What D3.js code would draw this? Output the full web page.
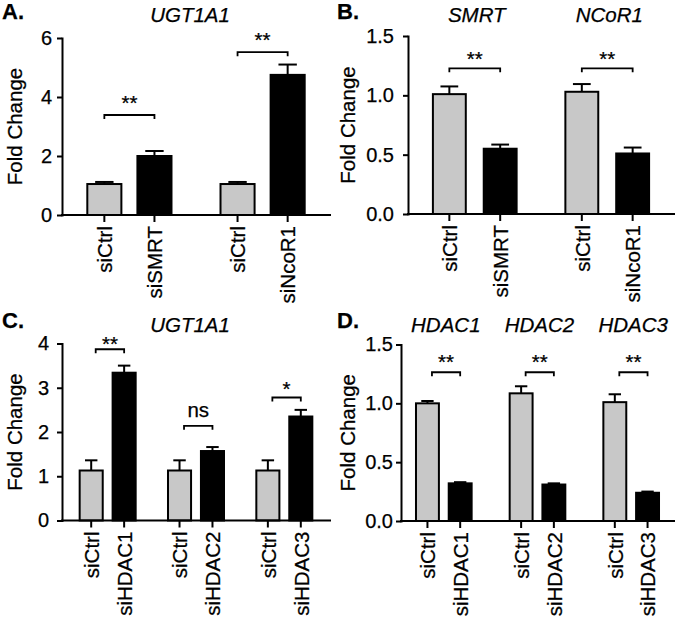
<!DOCTYPE html>
<html><head><meta charset="utf-8">
<script src="https://cdn.jsdelivr.net/npm/d3@7"></script>
<style>
body{margin:0;background:#fff}
svg text{font-family:"Liberation Sans",Arial,Helvetica,sans-serif;fill:#000;stroke:#000;stroke-width:0.25px}
</style>
</head><body>
<svg id="c" width="677" height="620"></svg>
<script>
// ---------- Panel A : UGT1A1 after SMRT / NCoR1 knockdown ----------
const aTitles   = ["UGT1A1"];
const aGroups   = ["SMRT", "NCoR1"];
const aLabels   = ["siCtrl", "siSMRT", "siCtrl", "siNcoR1"];
const aCtrl     = [1.05, 1.05];
const aCtrlErr  = [0.07, 0.07];
const aKd       = [2.00, 4.75];
const aKdErr    = [0.17, 0.35];
const aSig      = ["**", "**"];
const aSigLevel = [3.39, 5.52];
const aTicks    = [0, 2, 4, 6];

// ---------- Panel B : SMRT / NCoR1 knockdown efficiency ----------
const bTitles   = ["SMRT", "NCoR1"];
const bGroups   = ["SMRT", "NCoR1"];
const bLabels   = ["siCtrl", "siSMRT", "siCtrl", "siNcoR1"];
const bCtrl     = [1.01, 1.03];
const bCtrlErr  = [0.065, 0.065];
const bKd       = [0.55, 0.51];
const bKdErr    = [0.035, 0.05];
const bSig      = ["**", "**"];
const bSigLevel = [1.228, 1.228];
const bTicks    = [0, 0.5, 1.0, 1.5];

// ---------- Panel C : UGT1A1 after HDAC knockdown ----------
const cTitles   = ["UGT1A1"];
const cGroups   = ["HDAC1", "HDAC2", "HDAC3"];
const cLabels   = ["siCtrl", "siHDAC1", "siCtrl", "siHDAC2", "siCtrl", "siHDAC3"];
const cCtrl     = [1.13, 1.13, 1.13];
const cCtrlErr  = [0.23, 0.23, 0.23];
const cKd       = [3.34, 1.57, 2.35];
const cKdErr    = [0.16, 0.09, 0.15];
const cSig      = ["**", "ns", "*"];
const cSigLevel = [3.87, 2.14, 2.78];
const cTicks    = [0, 1, 2, 3, 4];

// ---------- Panel D : HDAC knockdown efficiency ----------
const dTitles   = ["HDAC1", "HDAC2", "HDAC3"];
const dGroups   = ["HDAC1", "HDAC2", "HDAC3"];
const dLabels   = ["siCtrl", "siHDAC1", "siCtrl", "siHDAC2", "siCtrl", "siHDAC3"];
const dCtrl     = [1.00, 1.085, 1.01];
const dCtrlErr  = [0.02, 0.06, 0.067];
const dKd       = [0.32, 0.31, 0.24];
const dKdErr    = [0.01, 0.01, 0.01];
const dSig      = ["**", "**", "**"];
const dSigLevel = [1.264, 1.264, 1.264];
const dTicks    = [0, 0.5, 1.0, 1.5];

const svg = d3.select("#c");

function drawPanel(p) {
  const g = svg.append("g");
  const y = d3.scaleLinear().domain(p.yDomain).range(p.yRange);
  const x0 = d3.scaleBand().domain(p.groups).range(p.xRange)
    .paddingInner(p.pi).paddingOuter(p.po);
  const x1 = d3.scaleBand().domain(["ctrl", "kd"]).range([0, x0.bandwidth()])
    .paddingInner(p.ipi).paddingOuter(0);

  const bars = [];
  p.groups.forEach((gn, i) => {
    bars.push({g: gn, k: "ctrl", v: p.ctrl[i], e: p.ctrlErr[i], label: p.labels[2 * i]});
    bars.push({g: gn, k: "kd", v: p.kd[i], e: p.kdErr[i], label: p.labels[2 * i + 1]});
  });
  const bx = d => x0(d.g) + x1(d.k);
  const bc = d => bx(d) + x1.bandwidth() / 2;
  const capHalf = x1.bandwidth() * 0.27;
  const y0 = y(0);

  // error bars
  g.selectAll(".eb").data(bars).join("line").attr("class", "eb")
    .attr("x1", bc).attr("x2", bc)
    .attr("y1", d => y(d.v)).attr("y2", d => y(d.v + d.e))
    .attr("stroke", "#000").attr("stroke-width", 2);
  g.selectAll(".cap").data(bars).join("line").attr("class", "cap")
    .attr("x1", d => bc(d) - capHalf).attr("x2", d => bc(d) + capHalf)
    .attr("y1", d => y(d.v + d.e)).attr("y2", d => y(d.v + d.e))
    .attr("stroke", "#000").attr("stroke-width", 2);

  // bars
  g.selectAll(".bar").data(bars).join("rect").attr("class", "bar")
    .attr("x", bx).attr("y", d => y(d.v))
    .attr("width", x1.bandwidth()).attr("height", d => y0 - y(d.v))
    .attr("fill", d => d.k === "ctrl" ? "#c8c8c8" : "#000")
    .attr("stroke", "#000").attr("stroke-width", 2);

  // y axis
  const ya = g.append("g").attr("transform", `translate(${p.xRange[0]},0)`)
    .call(d3.axisLeft(y).tickValues(p.ticks).tickSize(5).tickSizeOuter(0)
      .tickPadding(p.tickPad).tickFormat(p.fmt));
  ya.select(".domain").attr("stroke-width", 2).attr("stroke-linecap", "square");
  ya.selectAll(".tick line").attr("stroke-width", 2);
  ya.selectAll(".tick text").attr("font-size", 20)
    .attr("font-family", "'Liberation Sans',Arial,sans-serif").attr("fill", "#000");

  // x axis line
  g.append("line").attr("x1", p.xRange[0]).attr("x2", p.xRange[1])
    .attr("y1", y0).attr("y2", y0)
    .attr("stroke", "#000").attr("stroke-width", 2).attr("stroke-linecap", "square");
  // x ticks at bar centers
  g.selectAll(".xt").data(bars).join("line").attr("class", "xt")
    .attr("x1", bc).attr("x2", bc).attr("y1", y0).attr("y2", y0 + 7)
    .attr("stroke", "#000").attr("stroke-width", 2);
  // category labels
  g.selectAll(".xl").data(bars).join("text").attr("class", "xl")
    .attr("transform", d => `translate(${bc(d)},${y0 + 11}) rotate(-90)`)
    .attr("text-anchor", "end").attr("dy", "0.38em")
    .attr("font-size", 20.5).text(d => d.label);

  // significance brackets
  p.groups.forEach((gn, i) => {
    const c1 = bc(bars[2 * i]), c2 = bc(bars[2 * i + 1]);
    const xl = c1 + p.bInset, xr = c2;
    const yb = y(p.sigLevel[i]);
    g.append("path")
      .attr("d", `M${xl},${yb + 4}V${yb}H${xr}V${yb + 4}`)
      .attr("fill", "none").attr("stroke", "#000").attr("stroke-width", 1.8);
    g.append("text").attr("x", (xl + xr) / 2).attr("y", yb + p.sigOff[i])
      .attr("text-anchor", "middle").attr("font-size", 20.5).text(p.sig[i]);
  });

  // titles (italic gene names)
  if (p.titles.length === 1) {
    g.append("text").attr("x", (p.xRange[0] + p.xRange[1]) / 2 - 6).attr("y", p.titleY)
      .attr("text-anchor", "middle").attr("font-size", 20.5).attr("font-style", "italic")
      .text(p.titles[0]);
  } else {
    g.selectAll(".ttl").data(p.titles).join("text").attr("class", "ttl")
      .attr("x", (d, i) => x0(p.groups[i]) + x0.bandwidth() / 2 + 2).attr("y", p.titleY)
      .attr("text-anchor", "middle").attr("font-size", 20.5).attr("font-style", "italic")
      .text(d => d);
  }

  // y-axis title
  g.append("text")
    .attr("transform", `translate(${p.foldX},${(p.yRange[0] + p.yRange[1]) / 2}) rotate(-90)`)
    .attr("text-anchor", "middle").attr("font-size", 20.5).text("Fold Change");

  // panel letter
  g.append("text").attr("x", p.letterX).attr("y", p.letterY)
    .attr("font-size", 22).attr("font-weight", "bold").text(p.letter);
}

const fmtInt = d3.format("d");
const fmt1 = d3.format(".1f");

drawPanel({letter: "A.", letterX: 2, letterY: 19, titles: aTitles, titleY: 21.5,
  groups: aGroups, labels: aLabels, ctrl: aCtrl, ctrlErr: aCtrlErr, kd: aKd, kdErr: aKdErr,
  sig: aSig, sigLevel: aSigLevel, sigOff: [-4.7, -4.7], ticks: aTicks, fmt: fmtInt,
  yDomain: [0, 6], yRange: [215, 38], xRange: [62, 330], pi: 0.368, po: 0.19, ipi: 0.32,
  tickPad: 5, foldX: 21.5, bInset: 0});

drawPanel({letter: "B.", letterX: 337, letterY: 19, titles: bTitles, titleY: 21.5,
  groups: bGroups, labels: bLabels, ctrl: bCtrl, ctrlErr: bCtrlErr, kd: bKd, kdErr: bKdErr,
  sig: bSig, sigLevel: bSigLevel, sigOff: [-2.4, -2.4], ticks: bTicks, fmt: fmt1,
  yDomain: [0, 1.5], yRange: [214, 36], xRange: [408, 674], pi: 0.368, po: 0.188, ipi: 0.353,
  tickPad: 9, foldX: 354.5, bInset: 0});

drawPanel({letter: "C.", letterX: 2, letterY: 328, titles: cTitles, titleY: 331.5,
  groups: cGroups, labels: cLabels, ctrl: cCtrl, ctrlErr: cCtrlErr, kd: cKd, kdErr: cKdErr,
  sig: cSig, sigLevel: cSigLevel, sigOff: [1.6, -9.3, -1.8], ticks: cTicks, fmt: fmtInt,
  yDomain: [0, 4], yRange: [520.5, 343.5], xRange: [62, 330], pi: 0.366, po: 0.2, ipi: 0.30,
  tickPad: 8, foldX: 21.5, bInset: 4.5});

drawPanel({letter: "D.", letterX: 337, letterY: 328, titles: dTitles, titleY: 331.5,
  groups: dGroups, labels: dLabels, ctrl: dCtrl, ctrlErr: dCtrlErr, kd: dKd, kdErr: dKdErr,
  sig: dSig, sigLevel: dSigLevel, sigOff: [-3.7, -3.7, -3.7], ticks: dTicks, fmt: fmt1,
  yDomain: [0, 1.5], yRange: [521, 344.5], xRange: [401, 674], pi: 0.406, po: 0.16, ipi: 0.30,
  tickPad: 3, foldX: 354.5, bInset: 4.5});
</script>
</body></html>
